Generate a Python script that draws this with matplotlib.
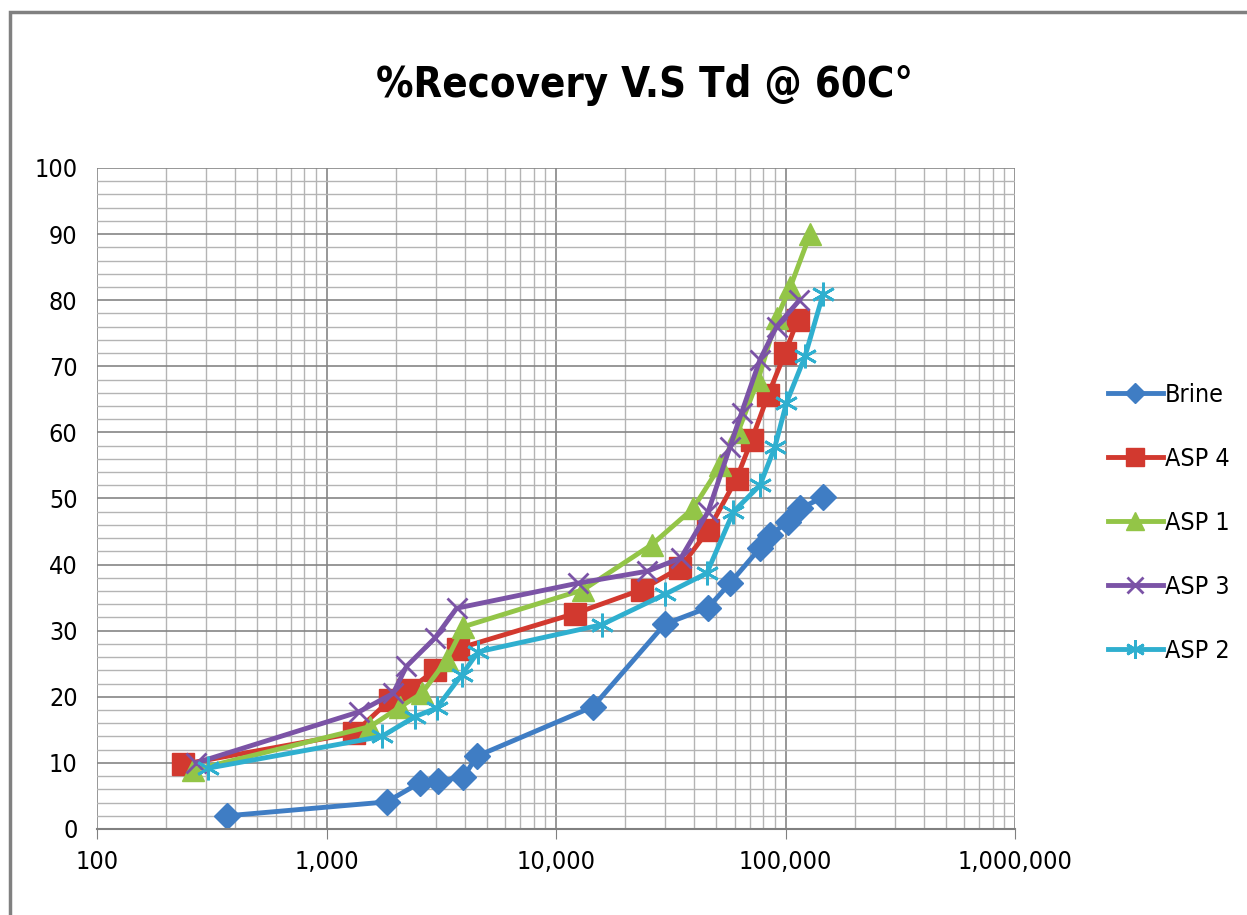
from matplotlib import pyplot as plt
from matplotlib.patches import Rectangle
from matplotlib.ticker import FixedLocator, FuncFormatter
import numpy as np

plt.rcParams['font.family'] = ['DejaVu Sans']
plt.rcParams['font.stretch'] = 'condensed'

# Data
brine_x = [370, 1830, 2550, 3070, 3950, 4510, 14500, 29800, 46000, 57300, 77400, 85500, 103000, 116000, 146000]
brine_y = [2, 4.1, 7, 7.3, 7.8, 11, 18.5, 31, 33.5, 37.2, 42.5, 44.5, 46.5, 48.5, 50.2]

asp4_x = [238, 1320, 1890, 2270, 2970, 3750, 12100, 23600, 34700, 46100, 61200, 71100, 84100, 99500, 113000]
asp4_y = [9.8, 14.5, 19.5, 21, 24, 27.3, 32.6, 36.2, 39.5, 45.2, 53, 58.8, 65.7, 72, 77]

asp1_x = [262, 1550, 2100, 2600, 3340, 3950, 13150, 26100, 39600, 52000, 62000, 76000, 91600, 105000, 128000]
asp1_y = [8.9, 15.5, 18.5, 20.5, 25.6, 30.6, 36.2, 43, 48.5, 55, 60, 68, 77.3, 82, 90]

asp3_x = [270, 1380, 1950, 2230, 2970, 3690, 12500, 25000, 35000, 46000, 57300, 64400, 77400, 91400, 115000]
asp3_y = [10, 17.7, 20.5, 24.6, 28.9, 33.4, 37.2, 39, 41, 48, 57.8, 63, 71, 76, 80]

asp2_x = [305, 1740, 2430, 3020, 3880, 4580, 15800, 29800, 45400, 59300, 77400, 89900, 101000, 121600, 146000]
asp2_y = [9.2, 14, 17, 18.3, 23.3, 26.8, 30.9, 35.5, 38.7, 48, 52, 57.8, 64.5, 71.5, 81]

fig = plt.figure(figsize=(12.47, 9.15), dpi=100)
ax = fig.add_axes([97/1247, 1-829/915, (1015-97)/1247, (829-168)/915])

# outer chart frame
fig.patches.append(Rectangle((10/1247, -0.1), 1.2, 1-12/915+0.1, transform=fig.transFigure,
                             fill=False, edgecolor='#808080', linewidth=2.5))

series = [
    (brine_x, brine_y, 'Brine', '#3F7DC4', 'D', 13, 1),
    (asp4_x, asp4_y, 'ASP 4', '#D2392F', 's', 16, 1),
    (asp1_x, asp1_y, 'ASP 1', '#93C547', '^', 16, 1),
    (asp3_x, asp3_y, 'ASP 3', '#7B53A6', 'x', 15, 2),
    (asp2_x, asp2_y, 'ASP 2', '#2FAFCF', (6, 2, 0), 17, 2),
]
for xs, ys, name, col, mk, ms, mew in series:
    ax.plot(xs, ys, color=col, lw=3.5, marker=mk, markersize=ms, markeredgewidth=mew,
            markeredgecolor=col, label=name)

ax.set_xscale('log')
ax.set_xlim(100, 1000000)
ax.set_ylim(0, 100)
ax.set_yticks(np.arange(0, 101, 10))
ax.yaxis.set_minor_locator(FixedLocator(np.arange(0, 101, 2)))
ax.xaxis.set_major_formatter(FuncFormatter(lambda v, p: f'{int(v):,}'))
ax.grid(True, which='major', color='#858585', lw=1.2)
ax.grid(True, which='minor', color='#B4B4B4', lw=1.0)
ax.set_axisbelow(True)
ax.tick_params(axis='x', which='major', direction='out', length=7, color='#808080',
               labelsize=18, pad=8)
ax.tick_params(axis='x', which='minor', length=0)
ax.tick_params(axis='y', which='both', length=0, labelsize=18, pad=14)
for s in ['top', 'right', 'left']:
    ax.spines[s].set_visible(False)
ax.spines['bottom'].set_color('#808080')
ax.spines['bottom'].set_linewidth(1.5)

fig.text(645/1247, 1-85/915, '%Recovery V.S Td @ 60C°', ha='center', va='center',
         fontsize=30, fontweight='bold')

ax.legend(loc='center left', bbox_to_anchor=(1085/1247, 1-523/915), bbox_transform=fig.transFigure,
          frameon=False, fontsize=18, handlelength=2.2, handletextpad=0.1,
          labelspacing=1.6, markerscale=0.8)

plt.savefig('out.png', dpi=100)
